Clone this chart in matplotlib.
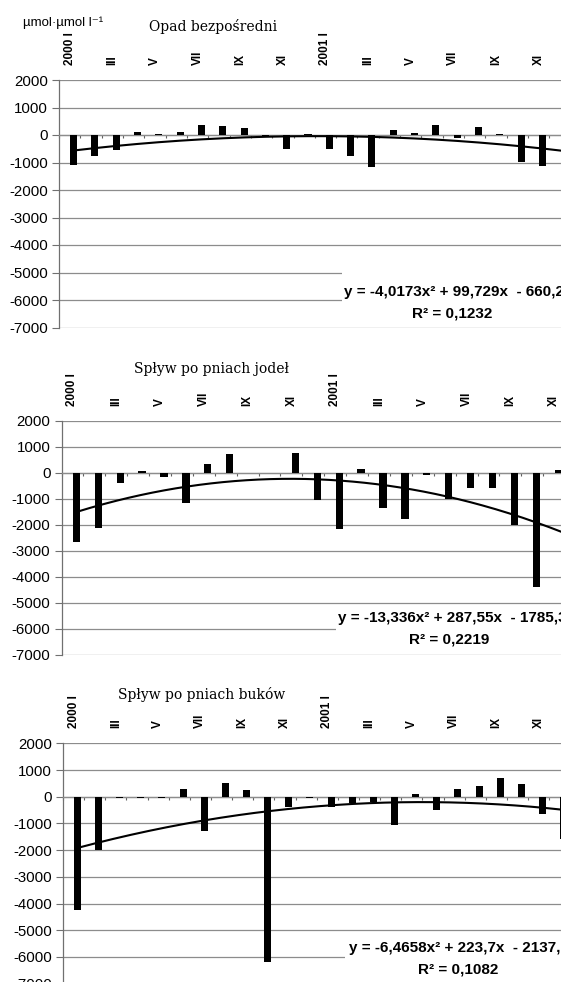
import numpy as np
import matplotlib.pyplot as plt
from matplotlib.patches import Rectangle
from matplotlib.ticker import FixedLocator

plt.rcParams['axes.unicode_minus'] = False

W_PX, H_PX, DPI = 561, 982, 100

months = ["2000 I", "II", "III", "IV", "V", "VI", "VII", "VIII", "IX", "X", "XI", "XII",
          "2001 I", "II", "III", "IV", "V", "VI", "VII", "VIII", "IX", "X", "XI", "XII"]

# monthly deviations, µmol·µmol l-1 (last month of the first two series is outside the view)
opad = [-1100, -750, -540, 100, 50, 100, 360, 310, 240, -40, -510, 20,
        -510, -780, -1160, 200, 80, 370, -120, 300, 40, -990, -1120, np.nan]
jodly = [-2650, -2130, -400, 50, -170, -1150, 350, 700, 0, 0, 750, -1060,
         -2180, 150, -1340, -1770, -70, -1020, -600, -600, -2000, -4400, 100, np.nan]
buki = [-4250, -2000, -30, -30, -40, 300, -1280, 500, 240, -6200, -400, -40,
        -400, -250, -210, -1050, 110, -480, 300, 400, 700, 490, -660, -1600]

titles = ["Opad bezpośredni", "Spływ po pniach jodeł", "Spływ po pniach buków"]

# polynomial trend lines (a, b, c) for y = a*x^2 + b*x + c, and their R^2
trend_coefs = [(-4.0173, 99.729, -660.22), (-13.336, 287.55, -1785.3), (-6.4658, 223.7, -2137.1)]
r2_values = [0.1232, 0.2219, 0.1082]

y_ticks = list(range(-7000, 2001, 1000))

# panel geometry in pixels
layout = [
    dict(left=59, top=80, bottom=327.5, step=21.32, title=(213, 27),
         eq=(343.5, 292), r2=(452, 313), box=(342, 258, 320)),
    dict(left=61.5, top=420.7, bottom=654.7, step=21.9, title=(211, 369),
         eq=(338, 618), r2=(449, 640), box=(336, 607, 650)),
    dict(left=63, top=743.3, bottom=983.6, step=21.14, title=(202, 695),
         eq=(349, 948), r2=(458, 969), box=(345, 936, 978)),
]

SANS = ['Liberation Sans', 'DejaVu Sans']
GRID = '#8c8c8c'
BAR_SHIFT = 0.18


def fx(x):
    return x / W_PX


def fy(y):
    return 1 - y / H_PX


def dec(v):
    return str(v).replace('.', ',')


fig = plt.figure(figsize=(W_PX / DPI, H_PX / DPI), dpi=DPI)

series = [opad, jodly, buki]
n = len(months)
x = np.arange(n)

for vals, title, (a, b, c), r2, lay in zip(series, titles, trend_coefs, r2_values, layout):
    w = n * lay['step']
    h = lay['bottom'] - lay['top']
    ax = fig.add_axes([fx(lay['left']), fy(lay['bottom']), w / W_PX, h / H_PX])
    ax.set_xlim(-0.5, n - 0.5)
    ax.set_ylim(-7000, 2000)

    ax.bar(x + BAR_SHIFT, vals, width=0.33, color='black', zorder=3)

    # Excel numbers points 1..n
    xt = np.linspace(1, n, 300)
    ax.plot(xt - 1 + BAR_SHIFT, a * xt ** 2 + b * xt + c, color='black', lw=1.5, zorder=4)

    # horizontal grid
    ax.set_yticks(y_ticks)
    ax.set_yticklabels([str(v) for v in y_ticks], family=SANS, fontsize=10.8)
    ax.yaxis.grid(True, color=GRID, lw=0.9)
    ax.set_axisbelow(True)
    ax.tick_params(axis='y', length=5, width=0.8, color='#707070', pad=3)

    # category axis crossing at zero, labels on top
    for s in ('top', 'right'):
        ax.spines[s].set_visible(False)
    ax.spines['bottom'].set_position(('data', 0))
    ax.spines['bottom'].set_color(GRID)
    ax.spines['bottom'].set_linewidth(0.9)
    ax.spines['left'].set_color('#707070')
    ax.spines['left'].set_linewidth(0.9)

    ax.set_xticks(x[::2])
    ax.set_xticklabels(months[::2], rotation=90, family=SANS, fontsize=8.5, fontweight='bold')
    ax.xaxis.set_minor_locator(FixedLocator(np.arange(-0.5, n, 1.0)))
    ax.tick_params(axis='x', which='major', bottom=False, top=False,
                   labelbottom=False, labeltop=True, pad=7.2)
    ax.tick_params(axis='x', which='minor', bottom=True, top=False, direction='out',
                   length=2.5, width=0.8, color='#606060')

    # white label area for the trend equation
    bx, by0, by1 = lay['box']
    fig.add_artist(Rectangle((fx(bx), fy(by1)), fx(W_PX + 10) - fx(bx), fy(by0) - fy(by1),
                             transform=fig.transFigure, facecolor='white',
                             edgecolor='none', zorder=2))
    eq = f"y = {dec(a)}x² + {dec(b)}x  - {dec(abs(c))}"
    fig.text(fx(lay['eq'][0]), fy(lay['eq'][1]), eq, ha='left', va='center',
             family=SANS, fontsize=11, fontweight='bold', zorder=3)
    fig.text(fx(lay['r2'][0]), fy(lay['r2'][1]), f"R² = {dec(r2)}", ha='center', va='center',
             family=SANS, fontsize=11, fontweight='bold', zorder=3)

    fig.text(fx(lay['title'][0]), fy(lay['title'][1]), title, ha='center', va='center',
             family='DejaVu Serif', fontsize=10)

fig.text(fx(23), fy(23), "µmol·µmol l⁻¹", ha='left', va='center', family=SANS, fontsize=9.5)

fig.savefig('out.png', dpi=DPI)
